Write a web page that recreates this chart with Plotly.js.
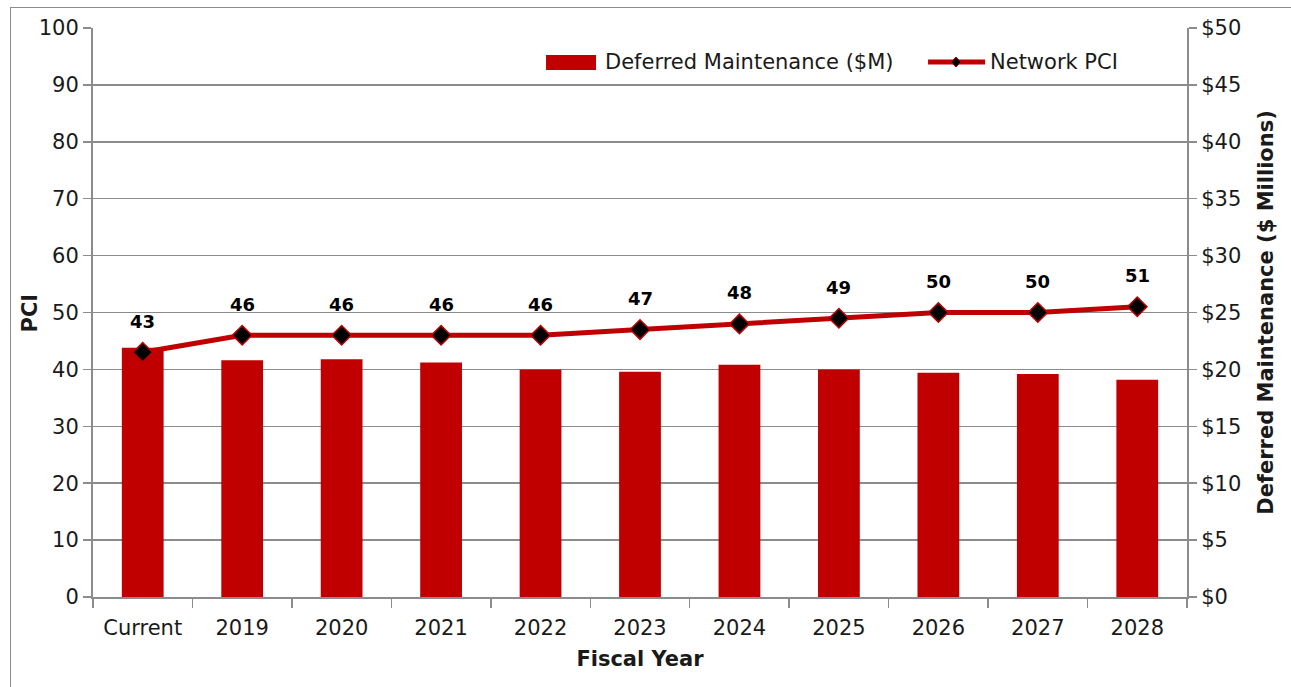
<!DOCTYPE html>
<html>
<head>
<meta charset="utf-8">
<script src="https://cdn.plot.ly/plotly-3.0.1.min.js"></script>
<style>
  html, body { margin: 0; padding: 0; background: #ffffff; overflow: hidden; width: 1291px; height: 687px; }
  #chart { width: 1291px; height: 687px; position: absolute; left: 0; top: 0; }
  #frame { position: absolute; left: 10px; top: 7px; width: 1281px; height: 680px; box-sizing: border-box;
           border-left: 1.5px solid #8c8c8c; border-top: 1.5px solid #8c8c8c; pointer-events: none; }
</style>
</head>
<body>
<div id="chart"></div>
<div id="frame"></div>
<script>
const categories = ["Current", "2019", "2020", "2021", "2022", "2023", "2024", "2025", "2026", "2027", "2028"];
const deferredMaintenance = [21.9, 20.8, 20.9, 20.6, 20.0, 19.8, 20.4, 20.0, 19.7, 19.6, 19.1];
const networkPCI = [43, 46, 46, 46, 46, 47, 48, 49, 50, 50, 51];
const pciLabels = networkPCI.map(v => String(v));
const seriesNames = ["Deferred Maintenance ($M)", "Network PCI"];

const RED = "#c00000";
const GRID = "#8c8c8c";
const TXT = "#1a1a1a";
const FONT = "DejaVu Sans, Verdana, sans-serif";

const traces = [
  {
    type: "bar",
    name: seriesNames[0],
    x: categories,
    y: deferredMaintenance,
    yaxis: "y",
    marker: { color: RED },
    width: 0.42
  },
  {
    type: "scatter",
    mode: "lines+markers",
    name: seriesNames[1],
    x: categories,
    y: networkPCI,
    yaxis: "y2",
    line: { color: RED, width: 5 },
    marker: { symbol: "diamond", size: 15, color: "#000000", line: { color: RED, width: 1.5 } }
  }
];

const annotations = categories.map((c, i) => ({
  x: i, y: networkPCI[i], xref: "x", yref: "y2",
  text: "<b>" + pciLabels[i] + "</b>",
  showarrow: false, yshift: 31,
  font: { family: FONT, size: 18, color: "#000000" }
}));

// manual legend (paper coords)
annotations.push({
  xref: "paper", yref: "paper", x: 0.4662, y: 0.9402, xanchor: "left", yanchor: "middle",
  text: seriesNames[0], showarrow: false, font: { family: FONT, size: 21, color: TXT }
});
annotations.push({
  xref: "paper", yref: "paper", x: 0.8181, y: 0.9402, xanchor: "left", yanchor: "middle",
  text: seriesNames[1], showarrow: false, font: { family: FONT, size: 21, color: TXT }
});
// left axis title
annotations.push({
  xref: "paper", yref: "paper", x: -0.0576, y: 0.5, xanchor: "center", yanchor: "middle",
  text: "<b>PCI</b>", textangle: -90, showarrow: false, font: { family: FONT, size: 21, color: TXT }
});

const shapes = [
  { type: "rect", xref: "paper", yref: "paper", x0: 0.4141, x1: 0.4598, y0: 0.9262, y1: 0.9525,
    fillcolor: RED, line: { width: 0 } },
  { type: "line", xref: "paper", yref: "paper", x0: 0.7633, x1: 0.8154, y0: 0.9402, y1: 0.9402,
    line: { color: RED, width: 5 } },
  { type: "path", xref: "paper", yref: "paper",
    path: "M 0.7888 0.9490 L 0.7934 0.9402 L 0.7888 0.9314 L 0.7842 0.9402 Z",
    fillcolor: "#000000", line: { color: RED, width: 1 } }
];

const layout = {
  width: 1291, height: 687,
  margin: { l: 93, r: 104, t: 28, b: 90 },
  paper_bgcolor: "#ffffff",
  plot_bgcolor: "#ffffff",
  font: { family: FONT, size: 20, color: TXT },
  showlegend: false,
  xaxis: {
    type: "category",
    range: [-0.5, categories.length - 0.5],
    showline: true, linecolor: GRID, linewidth: 2,
    ticks: "outside", tickson: "boundaries", ticklen: 9, tickcolor: GRID, tickwidth: 1.5,
    ticklabelstandoff: 11,
    tickfont: { family: FONT, size: 21, color: TXT },
    tickangle: 0,
    title: { text: "<b>Fiscal Year</b>", font: { family: FONT, size: 21, color: TXT }, standoff: 12 },
    showgrid: false, zeroline: false
  },
  yaxis: {
    side: "right",
    range: [0, 50], dtick: 5, tickprefix: "$",
    showline: true, linecolor: GRID, linewidth: 2,
    ticks: "outside", ticklen: 8, tickcolor: GRID, tickwidth: 1.5,
    showgrid: true, gridcolor: GRID, gridwidth: 1.5,
    zeroline: false,
    tickfont: { family: FONT, size: 21, color: TXT },
    title: { text: "<b>Deferred Maintenance ($ Millions)</b>", font: { family: FONT, size: 21, color: TXT }, standoff: 18 }
  },
  yaxis2: {
    overlaying: "y", side: "left",
    range: [0, 100], dtick: 10,
    showline: true, linecolor: GRID, linewidth: 2,
    ticks: "outside", ticklen: 8, tickcolor: GRID, tickwidth: 1.5,
    showgrid: false, zeroline: false,
    tickfont: { family: FONT, size: 21, color: TXT }
  },
  annotations: annotations,
  shapes: shapes
};

Plotly.newPlot("chart", traces, layout, { displayModeBar: false, staticPlot: true });
</script>
</body>
</html>
